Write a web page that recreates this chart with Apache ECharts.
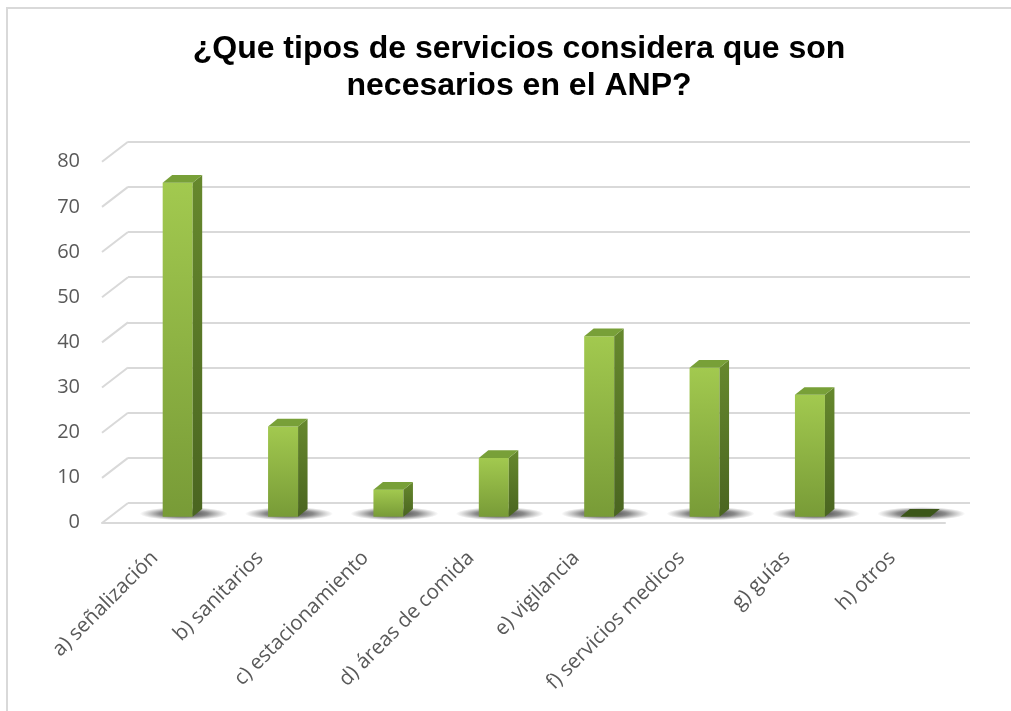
<!DOCTYPE html>
<html>
<head>
<meta charset="utf-8">
<script src="https://cdn.jsdelivr.net/npm/echarts@6/dist/echarts.min.js"></script>
<style>
  html, body { margin: 0; padding: 0; background: #ffffff; }
  #chart { width: 1011px; height: 711px; }
</style>
</head>
<body>
<div id="chart"></div>
<script>
// Survey answers: services considered necessary in the protected natural area
const categories = [
  'a) señalización',
  'b) sanitarios',
  'c) estacionamiento',
  'd) áreas de comida',
  'e) vigilancia',
  'f) servicios medicos',
  'g) guías',
  'h) otros'
];
const counts = [74, 20, 6, 13, 40, 33, 27, 0];
const yTicks = [0, 10, 20, 30, 40, 50, 60, 70, 80];

const chart = echarts.init(document.getElementById('chart'));

const GRID_LINE = '#d9d9d9';
const LABEL = '#595959';
const FONT = '"Open Sans", "Liberation Sans", sans-serif';

// Depth of the pseudo-3D floor (front plane is shifted left/down from the back wall)
const DEPTH_X = 26, DEPTH_Y = 20;
// Bars sit partway into the floor
const BAR_SHIFT_X = 23, BAR_SHIFT_Y = -6;
const BAR_W = 30, SIDE_X = 9.5, SIDE_Y = -7.7;

function renderBar(params, api) {
  const idx = api.value(0);
  const v = api.value(1);
  const base = api.coord([idx, 0]);
  const top = api.coord([idx, v]);
  const cx = base[0] + BAR_SHIFT_X;
  const by = base[1] + BAR_SHIFT_Y;
  const ty = top[1] + BAR_SHIFT_Y;
  const l = cx - BAR_W / 2, r = cx + BAR_W / 2;
  const children = [];

  // soft floor shadow
  children.push({
    type: 'circle',
    shape: { cx: 0, cy: 0, r: 44 },
    x: cx + 6, y: by - 3, scaleY: 0.15,
    silent: true,
    style: {
      fill: new echarts.graphic.RadialGradient(0.5, 0.5, 0.5, [
        { offset: 0, color: 'rgba(30,30,30,0.9)' },
        { offset: 0.55, color: 'rgba(60,60,60,0.6)' },
        { offset: 1, color: 'rgba(90,90,90,0)' }
      ])
    }
  });

  if (by - ty > 0.5) {
    // front face
    children.push({
      type: 'rect',
      shape: { x: l, y: ty, width: BAR_W, height: by - ty },
      style: {
        fill: new echarts.graphic.LinearGradient(0, 0, 0, 1, [
          { offset: 0, color: '#a2c94f' },
          { offset: 1, color: '#789b37' }
        ])
      }
    });
    // right side face
    children.push({
      type: 'polygon',
      shape: { points: [[r, ty], [r + SIDE_X, ty + SIDE_Y], [r + SIDE_X, by + SIDE_Y], [r, by]] },
      style: {
        fill: new echarts.graphic.LinearGradient(0, 0, 0, 1, [
          { offset: 0, color: '#66882d' },
          { offset: 1, color: '#4a6520' }
        ])
      }
    });
  }
  // top face
  children.push({
    type: 'polygon',
    shape: { points: [[l, ty], [l + SIDE_X, ty + SIDE_Y], [r + SIDE_X, ty + SIDE_Y], [r, ty]] },
    style: { fill: v > 0 ? '#78a038' : '#3c5619' }
  });

  return { type: 'group', children };
}

// short receding lines joining each back-wall gridline to the front plane
function renderDiagonal(params, api) {
  const v = api.value(0);
  const p = api.coord([0, v]);
  const x0 = params.coordSys.x;
  return {
    type: 'line',
    silent: true,
    shape: { x1: x0, y1: p[1], x2: x0 - DEPTH_X, y2: p[1] + DEPTH_Y },
    style: { stroke: GRID_LINE, lineWidth: 2 }
  };
}

const option = {
  animation: false,
  backgroundColor: '#ffffff',
  title: {
    text: '¿Que tipos de servicios considera que son\nnecesarios en el ANP?',
    left: 514,
    textAlign: 'center',
    top: 26,
    textStyle: {
      fontFamily: '"Liberation Sans", Arial, sans-serif',
      fontWeight: 'bold',
      fontSize: 32,
      lineHeight: 37,
      color: '#000000'
    }
  },
  graphic: [{
    // chart frame (top and left edges)
    type: 'polyline',
    silent: true,
    shape: { points: [[7, 720], [7, 8], [1030, 8]] },
    style: { fill: 'none', stroke: GRID_LINE, lineWidth: 2 }
  }],
  grid: [
    // back wall
    { left: 128, right: 41, top: 141.7, bottom: 208 },
    // front plane (floor edge, labels and bars)
    { left: 102, right: 66, top: 161.7, bottom: 188.3 }
  ],
  xAxis: [
    { type: 'category', gridIndex: 0, data: categories, show: false },
    {
      type: 'category', gridIndex: 1, data: categories,
      axisLine: { show: true, lineStyle: { color: GRID_LINE, width: 2 } },
      axisTick: { show: false },
      axisLabel: {
        interval: 0, rotate: 45, margin: 32,
        color: LABEL, fontSize: 20.5, fontFamily: FONT
      }
    }
  ],
  yAxis: [
    {
      type: 'value', gridIndex: 0, min: 0, max: 80, interval: 10,
      axisLine: { show: false }, axisTick: { show: false }, axisLabel: { show: false },
      splitLine: { show: true, lineStyle: { color: GRID_LINE, width: 2 } }
    },
    {
      type: 'value', gridIndex: 1, min: 0, max: 80, interval: 10,
      axisLine: { show: false }, axisTick: { show: false },
      splitLine: { show: false },
      axisLabel: { margin: 22, color: LABEL, fontSize: 20, fontFamily: FONT }
    }
  ],
  series: [
    {
      type: 'custom',
      xAxisIndex: 0, yAxisIndex: 0,
      data: yTicks.map(t => [t]),
      encode: { y: 0 },
      renderItem: renderDiagonal,
      silent: true
    },
    {
      type: 'custom',
      xAxisIndex: 1, yAxisIndex: 1,
      data: counts.map((c, i) => [i, c]),
      encode: { x: 0, y: 1 },
      renderItem: renderBar
    }
  ]
};

chart.setOption(option);
</script>
</body>
</html>
